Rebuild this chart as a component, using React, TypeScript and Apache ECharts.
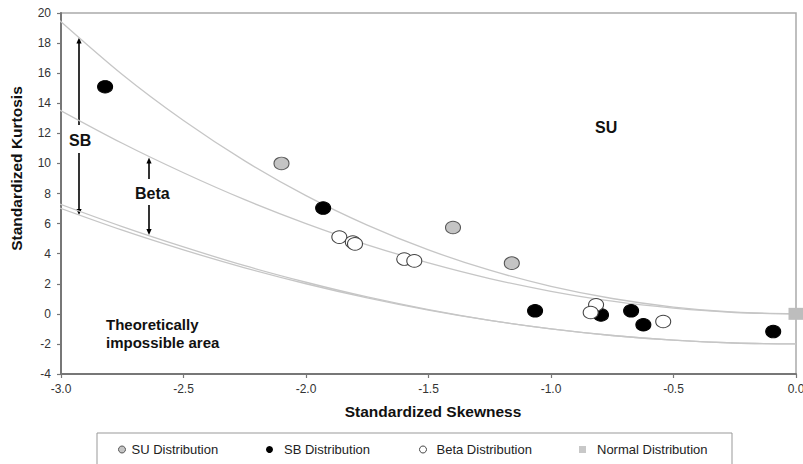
import { useEffect, useRef } from "react";
import * as echarts from "echarts";

// Boundary curves
const curveSkew = [-3.03, -2.75, -2.5, -2.25, -2.0, -1.75, -1.5, -1.25, -1.0, -0.75, -0.5, -0.25, 0.0];
const lognormalKurt = [19.85, 15.91, 12.85, 10.17, 7.86, 5.9, 4.25, 2.9, 1.83, 1.02, 0.45, 0.11, 0.0];
const gammaKurt = [13.77, 11.34, 9.38, 7.59, 6.0, 4.59, 3.38, 2.34, 1.5, 0.84, 0.38, 0.09, 0.0];
const lowerKurt = [7.18, 5.56, 4.25, 3.06, 2.0, 1.06, 0.25, -0.44, -1.0, -1.44, -1.75, -1.94, -2.0];
const lowerKurt2 = [7.45, 5.8, 4.45, 3.2, 2.1, 1.12, 0.28, -0.43, -1.0, -1.44, -1.75, -1.94, -2.0];

// Observed distributions
const suSkew = [-2.1, -1.4, -1.16];
const suKurt = [10.0, 5.74, 3.37];
const sbSkew = [-2.82, -1.93, -1.065, -0.796, -0.673, -0.623, -0.093];
const sbKurt = [15.1, 7.03, 0.2, -0.07, 0.2, -0.73, -1.18];
const betaSkew = [-1.864, -1.809, -1.8, -1.599, -1.558, -0.816, -0.838, -0.542];
const betaKurt = [5.1, 4.77, 4.65, 3.64, 3.52, 0.6, 0.09, -0.51];
const normalSkew = [0.0];
const normalKurt = [0.0];

const seriesNames = ["SU Distribution", "SB Distribution", "Beta Distribution", "Normal Distribution"];

const FONT = "'Liberation Sans', Arial, Helvetica, sans-serif";

const zip = (xs: number[], ys: number[]) => xs.map((x, i) => [x, ys[i]]);

function arrow(x: number, y1: number, y2: number) {
  // y1 = tail, y2 = tip
  const dir = y2 < y1 ? 1 : -1;
  const head = 6;
  return [
    {
      type: "line",
      shape: { x1: x, y1: y1, x2: x, y2: y2 + dir * (head - 1) },
      style: { stroke: "#000", lineWidth: 1.6 },
    },
    {
      type: "polygon",
      shape: {
        points: [
          [x, y2],
          [x - 2.6, y2 + dir * head],
          [x + 2.6, y2 + dir * head],
        ],
      },
      style: { fill: "#000" },
    },
  ];
}

export default function App() {
  const ref = useRef<HTMLDivElement>(null);

  useEffect(() => {
    if (!ref.current) return;
    const chart = echarts.init(ref.current, null, { renderer: "svg" });

    const curveStyle = {
      type: "line" as const,
      symbol: "none",
      smooth: 0.3,
      clip: false,
      silent: true,
      z: 1,
      lineStyle: { color: "#c6c6c6", width: 1.3 },
    };

    const legendItem = (name: string, left: number, padLeft: number, icon: string, itemStyle: any) => ({
      data: [{ name, icon, itemStyle }],
      left,
      top: 443,
      padding: 0,
      itemWidth: 7,
      itemHeight: 7,
      itemGap: 0,
      selectedMode: false,
      textStyle: { fontFamily: FONT, fontSize: 13, color: "#222", padding: [0, 0, 0, padLeft] },
    });

    chart.setOption({
      animation: false,
      backgroundColor: "#ffffff",
      textStyle: { fontFamily: FONT },
      grid: {
        left: 61,
        right: 7,
        top: 13,
        bottom: 90,
        show: true,
        borderColor: "#aaaaaa",
        borderWidth: 1.5,
        outerBoundsMode: "none",
      },
      xAxis: {
        type: "value",
        min: -3,
        max: 0,
        interval: 0.5,
        splitLine: { show: false },
        axisLine: { show: true, onZero: false, lineStyle: { color: "#777", width: 2 } },
        axisTick: { show: true, length: 4, lineStyle: { color: "#777", width: 1.2 } },
        axisLabel: {
          margin: 9,
          fontSize: 12,
          color: "#333",
          fontFamily: FONT,
          formatter: (v: number) => v.toFixed(1),
        },
      },
      yAxis: {
        type: "value",
        min: -4,
        max: 20,
        interval: 2,
        splitLine: { show: false },
        axisLine: { show: true, onZero: false, lineStyle: { color: "#777", width: 2 } },
        axisTick: { show: true, length: 4, lineStyle: { color: "#777", width: 1.2 } },
        axisLabel: { margin: 10, fontSize: 12, color: "#333", fontFamily: FONT },
      },
      legend: [
        legendItem(seriesNames[0], 118, 1, "circle", { color: "#c4c4c4", borderColor: "#555", borderWidth: 1 }),
        legendItem(seriesNames[1], 266, 6, "circle", { color: "#000", borderColor: "#000", borderWidth: 0 }),
        legendItem(seriesNames[2], 419, 5, "circle", { color: "#fff", borderColor: "#444", borderWidth: 1 }),
        legendItem(seriesNames[3], 579, 6, "rect", { color: "#c8c8c8", borderWidth: 0 }),
      ],
      series: [
        { ...curveStyle, name: "Lognormal line", data: zip(curveSkew, lognormalKurt) },
        { ...curveStyle, name: "Gamma line", data: zip(curveSkew, gammaKurt) },
        { ...curveStyle, name: "Lower limit", data: zip(curveSkew, lowerKurt) },
        { ...curveStyle, name: "Lower limit 2", data: zip(curveSkew, lowerKurt2) },
        {
          type: "scatter",
          name: seriesNames[0],
          data: zip(suSkew, suKurt),
          symbol: "circle",
          symbolSize: [15, 12.5],
          z: 3,
          itemStyle: { color: "#c4c4c4", borderColor: "#555", borderWidth: 1, opacity: 1 },
        },
        {
          type: "scatter",
          name: seriesNames[1],
          data: zip(sbSkew, sbKurt),
          symbol: "circle",
          symbolSize: [15, 12.5],
          z: 3,
          itemStyle: { color: "#000", borderColor: "#000", borderWidth: 1, opacity: 1 },
        },
        {
          type: "scatter",
          name: seriesNames[2],
          data: zip(betaSkew, betaKurt),
          symbol: "circle",
          symbolSize: [15, 12.5],
          z: 3,
          itemStyle: { color: "#fff", borderColor: "#444", borderWidth: 1, opacity: 1 },
        },
        {
          type: "scatter",
          name: seriesNames[3],
          data: zip(normalSkew, normalKurt),
          symbol: "rect",
          symbolSize: [15, 12],
          z: 3,
          itemStyle: { color: "#bdbdbd", opacity: 1 },
        },
      ],
      graphic: [
        {
          type: "rect",
          shape: { x: 97, y: 433, width: 635, height: 50 },
          style: { fill: "none", stroke: "#999", lineWidth: 1 },
          z: 0,
        },
        {
          type: "text",
          x: 16,
          y: 168.5,
          rotation: Math.PI / 2,
          style: {
            text: "Standardized Kurtosis",
            font: `bold 15.5px ${FONT}`,
            fill: "#111",
            align: "center",
            verticalAlign: "middle",
          },
        },
        {
          type: "text",
          x: 433,
          y: 411,
          style: {
            text: "Standardized Skewness",
            font: `bold 15.5px ${FONT}`,
            fill: "#111",
            align: "center",
            verticalAlign: "middle",
          },
        },
        {
          type: "text",
          x: 69,
          y: 140,
          style: { text: "SB", font: `bold 16px ${FONT}`, fill: "#111", align: "left", verticalAlign: "middle" },
        },
        {
          type: "text",
          x: 135,
          y: 193,
          style: { text: "Beta", font: `bold 16px ${FONT}`, fill: "#111", align: "left", verticalAlign: "middle" },
        },
        {
          type: "text",
          x: 595,
          y: 127,
          style: { text: "SU", font: `bold 16px ${FONT}`, fill: "#111", align: "left", verticalAlign: "middle" },
        },
        {
          type: "text",
          x: 106,
          y: 324,
          style: {
            text: "Theoretically",
            font: `bold 15px ${FONT}`,
            fill: "#111",
            align: "left",
            verticalAlign: "middle",
          },
        },
        {
          type: "text",
          x: 106,
          y: 342,
          style: {
            text: "impossible area",
            font: `bold 15px ${FONT}`,
            fill: "#111",
            align: "left",
            verticalAlign: "middle",
          },
        },
        ...arrow(79, 125, 37.5),
        ...arrow(79, 153, 215),
        ...arrow(149, 179, 157.5),
        ...arrow(149, 205, 235),
      ],
    });

    return () => chart.dispose();
  }, []);

  return (
    <div
      ref={ref}
      style={{ position: "absolute", left: 0, top: 0, width: 803, height: 464, background: "#fff" }}
    />
  );
}
